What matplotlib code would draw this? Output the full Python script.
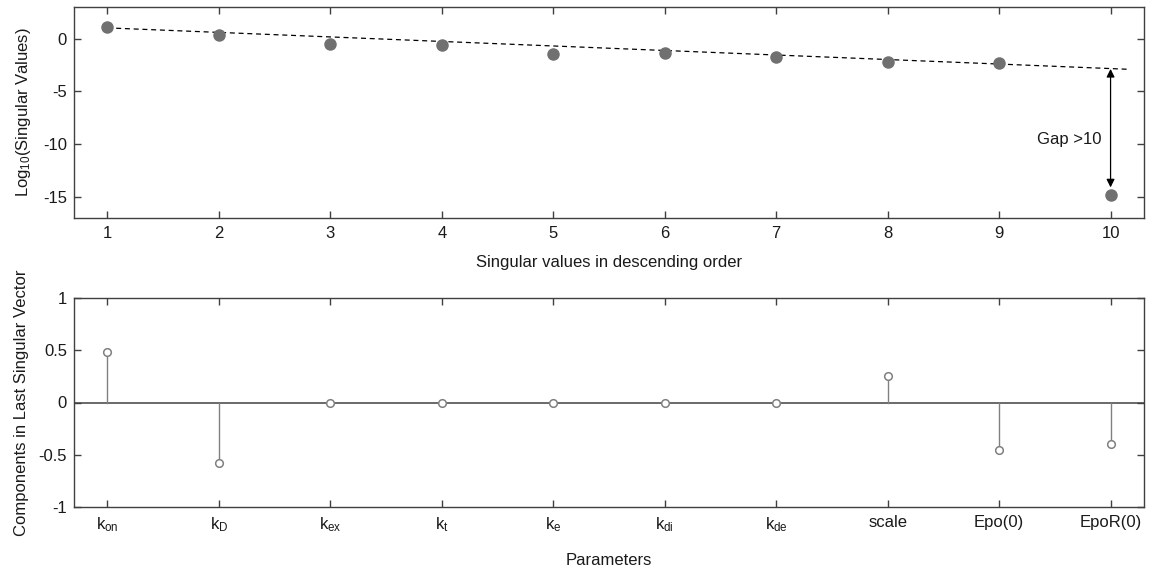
import matplotlib
matplotlib.use("Agg")
import matplotlib.pyplot as plt
import numpy as np

plt.rcParams['font.family'] = ['Liberation Sans', 'DejaVu Sans']
plt.rcParams['mathtext.default'] = 'regular'
plt.rcParams['axes.unicode_minus'] = False
plt.rcParams['font.size'] = 12

# Data
sv_index = [1, 2, 3, 4, 5, 6, 7, 8, 9, 10]
log_sv = [1.15, 0.38, -0.48, -0.57, -1.43, -1.40, -1.70, -2.20, -2.30, -14.8]
trend_x = [1, 10.15]
trend_y = [1.02, -2.9]
gap_top = -2.87
gap_bottom = -14.1

param_labels = [r'k$_{on}$', r'k$_{D}$', r'k$_{ex}$', r'k$_{t}$', r'k$_{e}$',
                r'k$_{di}$', r'k$_{de}$', 'scale', 'Epo(0)', 'EpoR(0)']
components = [0.48, -0.58, 0.0, 0.0, 0.0, 0.0, 0.0, 0.25, -0.455, -0.40]

W, H = 1154, 568
fig = plt.figure(figsize=(W/100, H/100), dpi=100)
ax1 = fig.add_axes([74/W, 1-218/H, (1144-74)/W, (218-7)/H])
ax2 = fig.add_axes([74/W, 1-507/H, (1144-74)/W, (507-298)/H])

spine_c = '#404040'
txt_c = '#1a1a1a'
fs = 12
for ax in (ax1, ax2):
    for s in ax.spines.values():
        s.set_color(spine_c)
        s.set_linewidth(1.0)
    ax.tick_params(direction='in', top=True, right=True, length=5, width=1.0,
                   color=spine_c, labelcolor=txt_c, labelsize=fs)
    ax.tick_params(axis='x', pad=6)
    ax.tick_params(axis='y', pad=5)

mcol = '#707070'
ax1.plot(trend_x, trend_y, '--', color='black', lw=0.9, dashes=(4, 3))
ax1.plot(sv_index, log_sv, 'o', color=mcol, markersize=9, markeredgewidth=0, zorder=3)
ax1.annotate('', xy=(10, gap_bottom), xytext=(10, gap_top),
             arrowprops=dict(arrowstyle='<|-|>', color='black', lw=0.9,
                             mutation_scale=12, shrinkA=0, shrinkB=0))
ax1.text(9.92, -9.55, 'Gap >10', ha='right', va='center', fontsize=fs,
         color=txt_c, bbox=dict(facecolor='white', edgecolor='none', pad=1))
ax1.set_xlim(0.7, 10.3)
ax1.set_ylim(-17, 3)
ax1.set_xticks(sv_index)
ax1.set_yticks([-15, -10, -5, 0])
ax1.set_xlabel('Singular values in descending order', fontsize=fs, color=txt_c, labelpad=10)
ax1.set_ylabel(r'Log$_{10}$(Singular Values)', fontsize=fs, color=txt_c, labelpad=7)

x2 = np.arange(1, len(components) + 1)
ax2.axhline(0, color='#505050', lw=1.2, zorder=1)
scol = '#808080'
for xi, yi in zip(x2, components):
    ax2.plot([xi, xi], [0, yi], color=scol, lw=1.0, zorder=2)
ax2.plot(x2, components, 'o', markerfacecolor='white', markeredgecolor=scol,
         markersize=5.5, markeredgewidth=1.1, zorder=3)
ax2.set_xlim(0.7, 10.3)
ax2.set_ylim(-1, 1)
ax2.set_xticks(x2)
ax2.set_xticklabels(param_labels)
ax2.set_yticks([-1, -0.5, 0, 0.5, 1])
ax2.set_yticklabels(['-1', '-0.5', '0', '0.5', '1'])
ax2.set_xlabel('Parameters', fontsize=fs, color=txt_c, labelpad=14)
ax2.set_ylabel('Components in Last Singular Vector', fontsize=fs, color=txt_c, labelpad=7)

fig.savefig('out.png', dpi=100)
